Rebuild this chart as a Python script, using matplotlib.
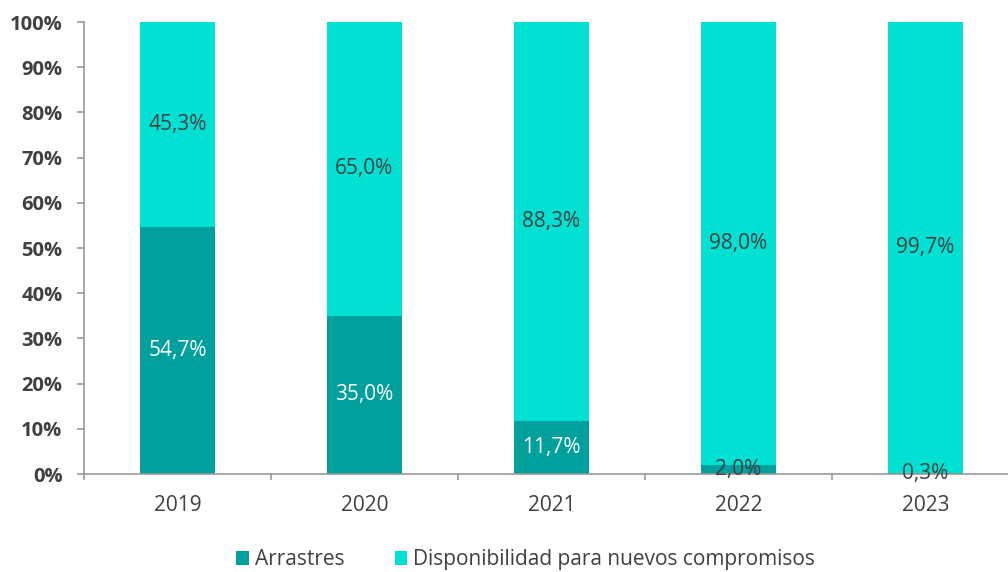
import matplotlib.pyplot as plt
import numpy as np

years = ['2019', '2020', '2021', '2022', '2023']
arrastres = [54.7, 35.0, 11.7, 2.0, 0.3]
disponibilidad = [45.3, 65.0, 88.3, 98.0, 99.7]

c_arr = '#00A19D'
c_disp = '#00E1D3'
txt = '#404040'
plt.rcParams['font.family'] = ['Open Sans', 'DejaVu Sans']

fig = plt.figure(figsize=(10.08, 5.72), dpi=100)
ax = fig.add_axes([84 / 1008, 98 / 572, 924 / 1008, 452 / 572])

x = np.arange(len(years))
w = 0.40
ax.bar(x, arrastres, w, color=c_arr, label='Arrastres')
ax.bar(x, disponibilidad, w, bottom=arrastres, color=c_disp,
       label='Disponibilidad para nuevos compromisos')

def fmt(v):
    return f'{v:.1f}%'.replace('.', ',')

for i in range(len(years)):
    col = 'white' if arrastres[i] > 5 else txt
    ax.text(x[i], arrastres[i] / 2, fmt(arrastres[i]), ha='center', va='center',
            color=col, fontsize=15)
    ax.text(x[i], arrastres[i] + disponibilidad[i] / 2, fmt(disponibilidad[i]),
            ha='center', va='center', color=txt, fontsize=15)

ax.set_xlim(-0.5, 4.5 - 11 / 187)
ax.set_ylim(0, 100)
ax.set_yticks(np.arange(0, 101, 10))
ax.set_yticklabels([f'{v}%' for v in range(0, 101, 10)], fontweight='bold',
                   fontsize=14.5, color=txt)
ax.set_xticks(x)
ax.set_xticklabels(years, fontsize=15, color=txt)
ax.set_xticks(np.arange(-0.5, 4.5, 1), minor=True)
ax.tick_params(axis='x', which='major', length=0, pad=15)
ax.tick_params(axis='x', which='minor', length=4.5, color='#999999', width=1.2)
ax.tick_params(axis='y', length=5, color='#999999', width=1.2, pad=10.5)

for s in ['top', 'right']:
    ax.spines[s].set_visible(False)
for s in ['left', 'bottom']:
    ax.spines[s].set_color('#999999')
    ax.spines[s].set_linewidth(1.2)

ax.legend(loc='upper center', bbox_to_anchor=(0.478, -0.125), ncol=2, frameon=False,
          fontsize=15, handlelength=0.6, handleheight=0.6, handletextpad=0.3,
          columnspacing=2.4, labelcolor=txt)

fig.savefig('out.png', dpi=100)
